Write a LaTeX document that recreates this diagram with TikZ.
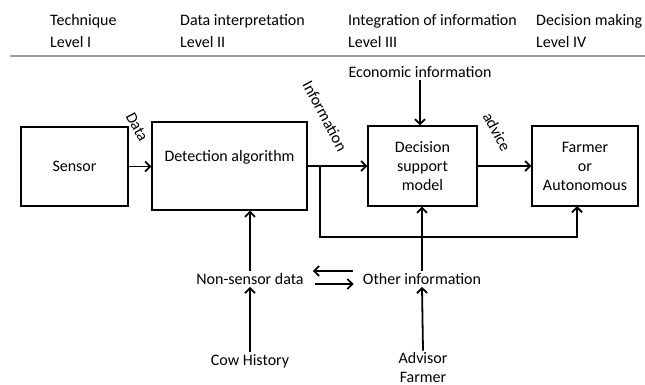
\documentclass[tikz,border=0pt]{standalone}
\usepackage{fontspec}
\setmainfont{Carlito}
\usetikzlibrary{arrows.meta}
\begin{document}
\begin{tikzpicture}[x=1pt,y=-1pt,
  every node/.style={font=\fontsize{16}{19}\selectfont},
  box/.style={draw,line width=1.3pt,inner sep=0pt,align=center},
  hdr/.style={anchor=west,align=left,inner sep=0pt,font=\fontsize{16}{22}\selectfont},
  plain/.style={inner sep=2pt,align=center},
  arr/.style={line width=1.8pt,-{Straight Barb[length=5pt,width=10pt,line width=1.8pt]}},
  rotlab/.style={rotate=-62,inner sep=0pt}]
\useasboundingbox (0,0) rectangle (645,385);

% column headings
\node[hdr] (h1) at (50,31) {Technique\\Level I};
\node[hdr] (h2) at (180,31) {Data interpretation\\Level II};
\node[hdr] (h3) at (348,31) {Integration of information\\Level III};
\node[hdr] (h4) at (536,31) {Decision making\\Level IV};
\draw[gray!75,line width=2pt] (10,56) -- (645,56);

% main chain
\node[box,minimum width=107,minimum height=79] (sensor) at (74.5,166.5) {Sensor};
\node[box,minimum width=155,minimum height=88,
      label={[yshift=9pt]center:Detection algorithm}] (detect) at (229.5,166) {};
\node[box,minimum width=109,minimum height=80] (dsm) at (422.5,166) {Decision\\support\\model};
\node[box,minimum width=106,minimum height=80] (farmer) at (585,166) {Farmer\\or\\Autonomous};

\node[plain] (econ) at (420,72) {Economic information};
\node[plain] (nonsensor) at (250,279) {Non-sensor data};
\node[plain] (other) at (422,279) {Other information};
\node[plain] (cow) at (250,361) {Cow History};
\node[plain] (advisor) at (423,368) {Advisor\\Farmer};

% connectors
\draw[arr] (sensor.east) -- (sensor.east -| detect.west);
\draw[arr] (detect.east) -- (dsm.west);
\draw[arr] (dsm.east) -- (farmer.west);
\draw[arr] (econ.south) -- (econ.south |- dsm.north);

\coordinate (split) at (320,166);
\coordinate (bus) at (320,237);
\coordinate (fin) at (577,206);
\draw[arr] (split) -- (bus) -| (fin);

\draw[arr] (other.north) -- (other.north |- dsm.south);
\draw[arr] (nonsensor.north) -- (nonsensor.north |- detect.south);
\draw[arr] ([xshift=-8pt,yshift=8pt]other.west) -- ([xshift=7pt,yshift=8pt]nonsensor.east);
\draw[arr] ([xshift=9pt,yshift=-5pt]nonsensor.east) -- ([xshift=-7pt,yshift=-5pt]other.west);
\draw[arr] (cow.north) -- (nonsensor.south);
\draw[arr] (advisor.north) -- (other.south);

% rotated edge labels
\node[rotlab] (ldata) at (137,127) {Data};
\node[rotlab] (linfo) at (325,116) {Information};
\node[rotlab] (ladv) at (497,132) {advice};
\end{tikzpicture}
\end{document}
